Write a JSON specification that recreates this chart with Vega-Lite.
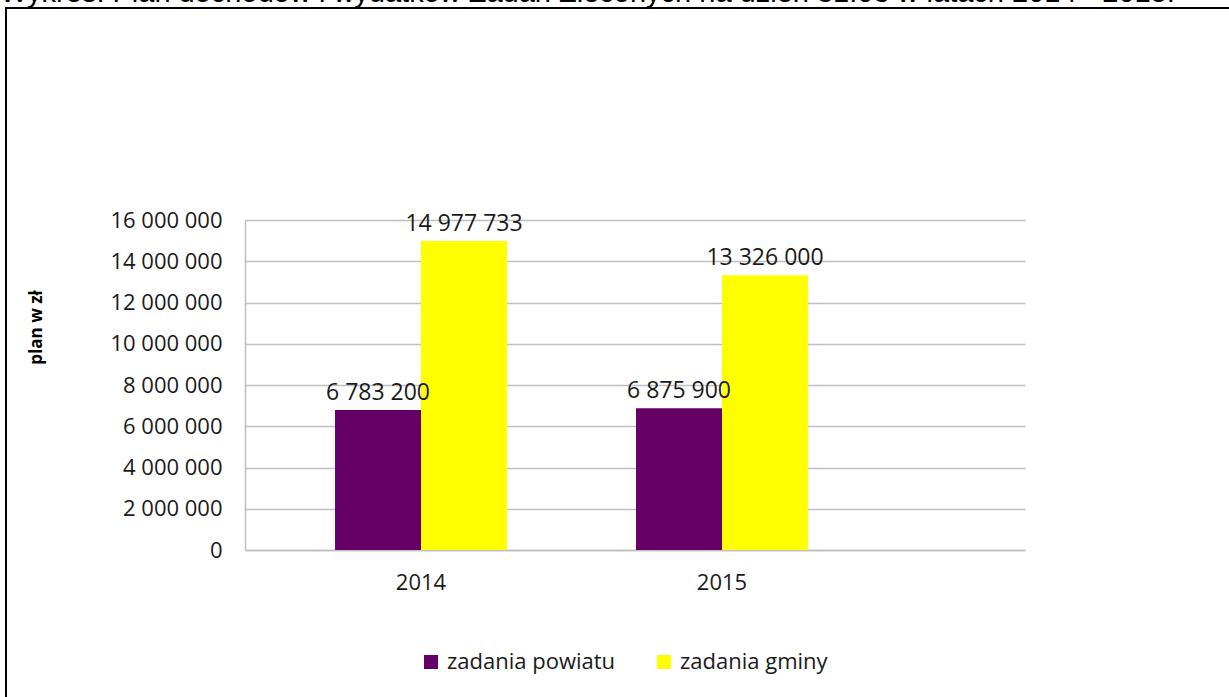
{
  "$schema": "https://vega.github.io/schema/vega-lite/v6.json",
  "width": 1226,
  "height": 692,
  "padding": {"left": 6, "top": 8, "right": 0, "bottom": 0},
  "autosize": {"type": "none"},
  "background": "white",
  "title": {
    "text": "Wykres: Plan dochodów i wydatków Zadań Zleconych na dzień 31.03 w latach 2014 - 2015.",
    "anchor": "start",
    "frame": "group",
    "offset": -23,
    "baseline": "alphabetic",
    "font": "Liberation Sans",
    "fontSize": 29,
    "fontWeight": "normal",
    "color": "#000000",
    "dx": -6
  },
  "config": {
    "locale": {"number": {"decimal": ",", "thousands": " ", "grouping": [3], "currency": ["", ""]}},
    "view": {"stroke": "#000000", "strokeWidth": 2},
    "font": "Open Sans"
  },
  "data": {
    "values": [
      {"rok": "2014", "seria": "zadania powiatu", "plan": 6783200},
      {"rok": "2014", "seria": "zadania gminy", "plan": 14977733},
      {"rok": "2015", "seria": "zadania powiatu", "plan": 6875900},
      {"rok": "2015", "seria": "zadania gminy", "plan": 13326000}
    ]
  },
  "encoding": {
    "x": {
      "field": "rok",
      "type": "nominal",
      "scale": {"range": [239, 1019], "paddingInner": 0, "paddingOuter": 0.2957, "align": 0.1433},
      "axis": {
        "title": null,
        "orient": "bottom",
        "offset": -150,
        "labelAngle": 0,
        "ticks": false,
        "domainColor": "#BFBFBF",
        "domainWidth": 1.5,
        "labelFont": "Open Sans",
        "labelFontSize": 22,
        "labelColor": "#1a1a1a",
        "labelPadding": 22
      }
    },
    "xOffset": {
      "field": "seria",
      "type": "nominal",
      "sort": ["zadania powiatu", "zadania gminy"],
      "scale": {"paddingInner": 0, "paddingOuter": 0.75}
    },
    "y": {
      "field": "plan",
      "type": "quantitative",
      "scale": {"domain": [0, 16000000], "range": [542, 212], "nice": false},
      "axis": {
        "title": "plan w zł",
        "values": [0, 2000000, 4000000, 6000000, 8000000, 10000000, 12000000, 14000000, 16000000],
        "format": ",d",
        "offset": -239,
        "ticks": false,
        "grid": true,
        "gridColor": "#BFBFBF",
        "gridWidth": 1.5,
        "domainColor": "#BFBFBF",
        "domainWidth": 1.5,
        "labelFont": "Open Sans",
        "labelFontSize": 22,
        "labelColor": "#1a1a1a",
        "labelPadding": 23,
        "titleFont": "Open Sans",
        "titleFontSize": 17,
        "titleFontWeight": "bold",
        "titleColor": "#000000",
        "titleAngle": -90,
        "titleAlign": "center",
        "titleBaseline": "middle",
        "titleX": -209,
        "titleY": 319
      }
    }
  },
  "layer": [
    {
      "mark": {"type": "bar"},
      "encoding": {
        "color": {
          "field": "seria",
          "type": "nominal",
          "scale": {"domain": ["zadania powiatu", "zadania gminy"], "range": ["#660066", "#FFFF00"]},
          "legend": {
            "title": null,
            "orient": "none",
            "legendX": 414,
            "legendY": 643,
            "direction": "horizontal",
            "symbolType": "square",
            "symbolSize": 196,
            "symbolStrokeWidth": 0,
            "symbolOpacity": 1,
            "labelFont": "Open Sans",
            "labelFontSize": 22,
            "labelLimit": 0,
            "labelColor": "#1a1a1a",
            "labelOffset": 5,
            "columnPadding": 37
          }
        }
      }
    },
    {
      "mark": {"type": "text", "fontSize": 23, "dy": -10, "baseline": "alphabetic", "color": "#1a1a1a", "font": "Open Sans"},
      "encoding": {
        "text": {"field": "plan", "type": "quantitative", "format": ",d"}
      }
    }
  ]
}
